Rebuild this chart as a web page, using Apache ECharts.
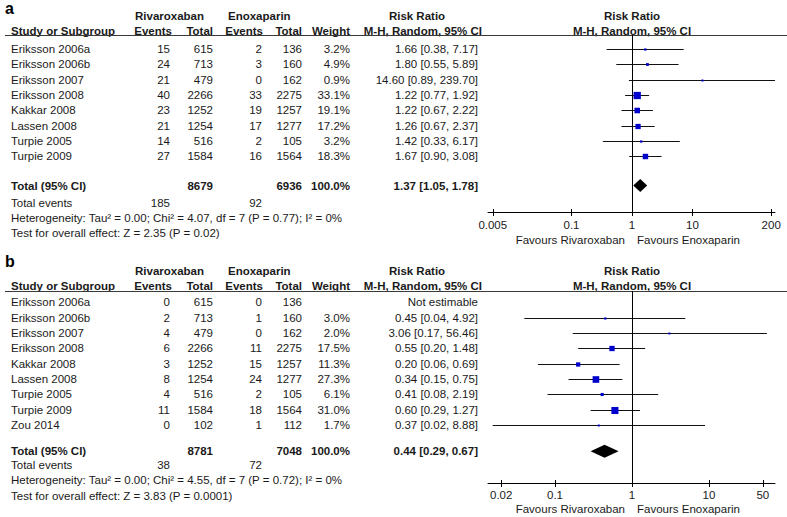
<!DOCTYPE html>
<html><head><meta charset="utf-8">
<script src="https://cdn.jsdelivr.net/npm/echarts@6/dist/echarts.min.js"></script>
<style>html,body{margin:0;padding:0;background:#fff}#c{width:787px;height:517px}</style>
</head><body><div id="c"></div>
<script>
// ---------- Panel a data ----------
const studiesA   = ['Eriksson 2006a','Eriksson 2006b','Eriksson 2007','Eriksson 2008','Kakkar 2008','Lassen 2008','Turpie 2005','Turpie 2009'];
const rivEventsA = [15, 24, 21, 40, 23, 21, 14, 27];
const rivTotalA  = [615, 713, 479, 2266, 1252, 1254, 516, 1584];
const enoEventsA = [2, 3, 0, 33, 19, 17, 2, 16];
const enoTotalA  = [136, 160, 162, 2275, 1257, 1277, 105, 1564];
const weightA    = [3.2, 4.9, 0.9, 33.1, 19.1, 17.2, 3.2, 18.3];
const rrA        = [1.66, 1.80, 14.60, 1.22, 1.22, 1.26, 1.42, 1.67];
const lowA       = [0.38, 0.55, 0.89, 0.77, 0.67, 0.67, 0.33, 0.90];
const highA      = [7.17, 5.89, 239.70, 1.92, 2.22, 2.37, 6.17, 3.08];
const totalsA      = [8679, 6936];
const totalEventsA = [185, 92];
const pooledA      = [1.37, 1.05, 1.78];
const hetA  = 'Heterogeneity: Tau\u00b2 = 0.00; Chi\u00b2 = 4.07, df = 7 (P = 0.77); I\u00b2 = 0%';
const testA = 'Test for overall effect: Z = 2.35 (P = 0.02)';
const ticksA = ['0.005', '0.1', '1', '10', '200'];

// ---------- Panel b data ----------
const studiesB   = ['Eriksson 2006a','Eriksson 2006b','Eriksson 2007','Eriksson 2008','Kakkar 2008','Lassen 2008','Turpie 2005','Turpie 2009','Zou 2014'];
const rivEventsB = [0, 2, 4, 6, 3, 8, 4, 11, 0];
const rivTotalB  = [615, 713, 479, 2266, 1252, 1254, 516, 1584, 102];
const enoEventsB = [0, 1, 0, 11, 15, 24, 2, 18, 1];
const enoTotalB  = [136, 160, 162, 2275, 1257, 1277, 105, 1564, 112];
const weightB    = [null, 3.0, 2.0, 17.5, 11.3, 27.3, 6.1, 31.0, 1.7];
const rrB        = [null, 0.45, 3.06, 0.55, 0.20, 0.34, 0.41, 0.60, 0.37];
const lowB       = [null, 0.04, 0.17, 0.20, 0.06, 0.15, 0.08, 0.29, 0.0155];
const highB      = [null, 4.92, 56.46, 1.48, 0.69, 0.75, 2.19, 1.27, 8.88];
const totalsB      = [8781, 7048];
const totalEventsB = [38, 72];
const pooledB      = [0.44, 0.29, 0.67];
const hetB  = 'Heterogeneity: Tau\u00b2 = 0.00; Chi\u00b2 = 4.55, df = 7 (P = 0.72); I\u00b2 = 0%';
const testB = 'Test for overall effect: Z = 3.83 (P = 0.0001)';
const ticksB = ['0.02', '0.1', '1', '10', '50'];

// ---------- layout / style ----------
const FF = '"Liberation Sans", Arial, sans-serif';
const FONT = '11.5px ' + FF;
const BOLD = 'bold 11.5px ' + FF;
const TXT = '#1a1a1a';
const BLUE = '#0000cc';

const panels = [
  { letter: 'a', letterY: 8, h1: 16, h2: 31, lineY: 35, row0: 49, step: 15.35, totalRow: 8.9,
    evRow: 10, hetRow: 11, testRow: 12, axisY: 212, favY: 240, labelMargin: 7,
    xMin: -2.38, xMax: 2.364,
    studies: studiesA, rivE: rivEventsA, rivT: rivTotalA, enoE: enoEventsA, enoT: enoTotalA,
    w: weightA, rr: rrA, lo: lowA, hi: highA, totals: totalsA, tev: totalEventsA, pooled: pooledA,
    het: hetA, test: testA, ticks: ticksA },
  { letter: 'b', letterY: 261, h1: 271, h2: 286, lineY: 291, row0: 302.3, step: 15.35, totalRow: 9.7,
    evRow: 10.6, hetRow: 11.6, testRow: 12.6, axisY: 483, favY: 509, labelMargin: 6,
    xMin: -1.870, xMax: 1.857,
    studies: studiesB, rivE: rivEventsB, rivT: rivTotalB, enoE: enoEventsB, enoT: enoTotalB,
    w: weightB, rr: rrB, lo: lowB, hi: highB, totals: totalsB, tev: totalEventsB, pooled: pooledB,
    het: hetB, test: testB, ticks: ticksB }
];

const GRID_LEFT = 488, GRID_W = 287, ZERO_X = 632;

function txt(text, x, y, align, font, fill) {
  return { type: 'text', silent: true, style: { text: String(text), x: x, y: y,
    align: align, textAlign: align, verticalAlign: 'middle', textVerticalAlign: 'middle',
    font: font || FONT, fill: fill || TXT } };
}
function ci(r, l, h) { return r.toFixed(2) + ' [' + l.toFixed(2) + ', ' + h.toFixed(2) + ']'; }

const grids = [], xAxes = [], yAxes = [], series = [], graphics = [];

panels.forEach(function (p, pi) {
  const rowY = function (i) { return p.row0 + i * p.step; };
  const height = p.axisY - p.lineY;
  grids.push({ left: GRID_LEFT, width: GRID_W, top: p.lineY, height: height });
  const tickVals = p.ticks.map(function (t) { return Math.log10(parseFloat(t)); });
  const fmt = function (v) {
    for (let k = 0; k < tickVals.length; k++) if (Math.abs(tickVals[k] - v) < 1e-6) return p.ticks[k];
    return '';
  };
  xAxes.push({ type: 'value', gridIndex: pi, min: p.xMin, max: p.xMax, position: 'bottom', offset: 0,
    axisLine: { show: true, onZero: false, lineStyle: { color: '#000', width: 1 } },
    axisTick: { show: true, customValues: tickVals, length: 4, lineStyle: { color: '#000', width: 1 } },
    axisLabel: { show: true, customValues: tickVals, formatter: fmt, margin: p.labelMargin,
      fontSize: 11.5, fontFamily: FF, color: TXT },
    splitLine: { show: false } });
  xAxes.push({ type: 'value', gridIndex: pi, min: p.xMin, max: p.xMax, position: 'bottom', offset: 0,
    axisLine: { show: false, onZero: false },
    axisTick: { show: true, inside: true, customValues: tickVals, length: 3, lineStyle: { color: '#000', width: 1 } },
    axisLabel: { show: false }, splitLine: { show: false } });
  yAxes.push({ type: 'value', gridIndex: pi, inverse: true, show: false,
    axisLine: { onZero: false },
    min: (p.lineY - p.row0) / p.step, max: (p.axisY - p.row0) / p.step });

  // study rows
  const studyData = [];
  p.studies.forEach(function (s, i) {
    if (p.rr[i] != null) studyData.push([Math.log10(p.lo[i]), Math.log10(p.hi[i]), Math.log10(p.rr[i]), i, p.w[i]]);
  });
  series.push({ type: 'custom', xAxisIndex: pi * 2, yAxisIndex: pi, data: studyData, silent: true,
    renderItem: function (params, api) {
      const cs = params.coordSys;
      const a = api.coord([api.value(0), api.value(3)]);
      const b = api.coord([api.value(1), api.value(3)]);
      const c = api.coord([api.value(2), api.value(3)]);
      const y = Math.round(c[1]) + 0.5;
      const x1 = Math.max(a[0], cs.x), x2 = Math.min(b[0], cs.x + cs.width);
      const s = Math.max(2, 1.27 * Math.sqrt(api.value(4)));
      return { type: 'group', children: [
        { type: 'line', shape: { x1: x1, y1: y, x2: x2, y2: y }, style: { stroke: '#111', lineWidth: 1 } },
        { type: 'rect', shape: { x: c[0] - s / 2, y: y - s / 2, width: s, height: s }, style: { fill: BLUE } }
      ] };
    } });
  // pooled diamond + line of no effect
  series.push({ type: 'custom', xAxisIndex: pi * 2, yAxisIndex: pi, silent: true,
    data: [[Math.log10(p.pooled[1]), Math.log10(p.pooled[2]), Math.log10(p.pooled[0]), p.totalRow]],
    renderItem: function (params, api) {
      const a = api.coord([api.value(0), api.value(3)]);
      const b = api.coord([api.value(1), api.value(3)]);
      const c = api.coord([api.value(2), api.value(3)]);
      const hh = 6.5;
      return { type: 'polygon', shape: { points: [[a[0], c[1]], [c[0], c[1] - hh], [b[0], c[1]], [c[0], c[1] + hh]] },
        style: { fill: '#000' } };
    },
    markLine: { silent: true, symbol: 'none', animation: false, label: { show: false },
      lineStyle: { color: '#000', width: 1, type: 'solid' }, data: [{ xAxis: 0 }] } });

  // ---- table text ----
  graphics.push(txt(p.letter, 5, p.letterY, 'left', 'bold 16px ' + FF, '#000'));
  graphics.push(txt('Rivaroxaban', 135, p.h1, 'left', BOLD));
  graphics.push(txt('Enoxaparin', 228, p.h1, 'left', BOLD));
  graphics.push(txt('Risk Ratio', 417, p.h1, 'center', BOLD));
  graphics.push(txt('Risk Ratio', ZERO_X, p.h1, 'center', BOLD));
  graphics.push(txt('Study or Subgroup', 11, p.h2, 'left', BOLD));
  graphics.push(txt('Events', 172, p.h2, 'right', BOLD));
  graphics.push(txt('Total', 213, p.h2, 'right', BOLD));
  graphics.push(txt('Events', 263, p.h2, 'right', BOLD));
  graphics.push(txt('Total', 302, p.h2, 'right', BOLD));
  graphics.push(txt('Weight', 350, p.h2, 'right', BOLD));
  graphics.push(txt('M-H, Random, 95% CI', 482, p.h2, 'right', BOLD));
  graphics.push(txt('M-H, Random, 95% CI', ZERO_X, p.h2, 'center', BOLD));
  graphics.push({ type: 'line', silent: true, shape: { x1: 5, y1: p.lineY + 0.5, x2: 787, y2: p.lineY + 0.5 },
    style: { stroke: '#3a3a3a', lineWidth: 1.2 } });

  p.studies.forEach(function (s, i) {
    const y = rowY(i);
    graphics.push(txt(s, 11, y, 'left'));
    graphics.push(txt(p.rivE[i], 170, y, 'right'));
    graphics.push(txt(p.rivT[i], 213, y, 'right'));
    graphics.push(txt(p.enoE[i], 262, y, 'right'));
    graphics.push(txt(p.enoT[i], 302, y, 'right'));
    if (p.w[i] != null) graphics.push(txt(p.w[i].toFixed(1) + '%', 350, y, 'right'));
    graphics.push(txt(p.rr[i] != null ? ci(p.rr[i], p.lo[i], p.hi[i]) : 'Not estimable', 478, y, 'right'));
  });
  const ty = rowY(p.totalRow);
  graphics.push(txt('Total (95% CI)', 11, ty, 'left', BOLD));
  graphics.push(txt(p.totals[0], 213, ty, 'right', BOLD));
  graphics.push(txt(p.totals[1], 302, ty, 'right', BOLD));
  graphics.push(txt('100.0%', 350, ty, 'right', BOLD));
  graphics.push(txt(ci(p.pooled[0], p.pooled[1], p.pooled[2]), 478, ty, 'right', BOLD));
  graphics.push(txt('Total events', 11, rowY(p.evRow), 'left'));
  graphics.push(txt(p.tev[0], 170, rowY(p.evRow), 'right'));
  graphics.push(txt(p.tev[1], 262, rowY(p.evRow), 'right'));
  graphics.push(txt(p.het, 11, rowY(p.hetRow), 'left'));
  graphics.push(txt(p.test, 11, rowY(p.testRow), 'left'));
  graphics.push(txt('Favours Rivaroxaban', 625, p.favY, 'right'));
  graphics.push(txt('Favours Enoxaparin', 637, p.favY, 'left'));
});

const chart = echarts.init(document.getElementById('c'), null, { renderer: 'svg', width: 787, height: 517 });
chart.setOption({
  animation: false,
  backgroundColor: '#fff',
  grid: grids, xAxis: xAxes, yAxis: yAxes, series: series,
  graphic: { elements: graphics }
});
</script></body></html>
